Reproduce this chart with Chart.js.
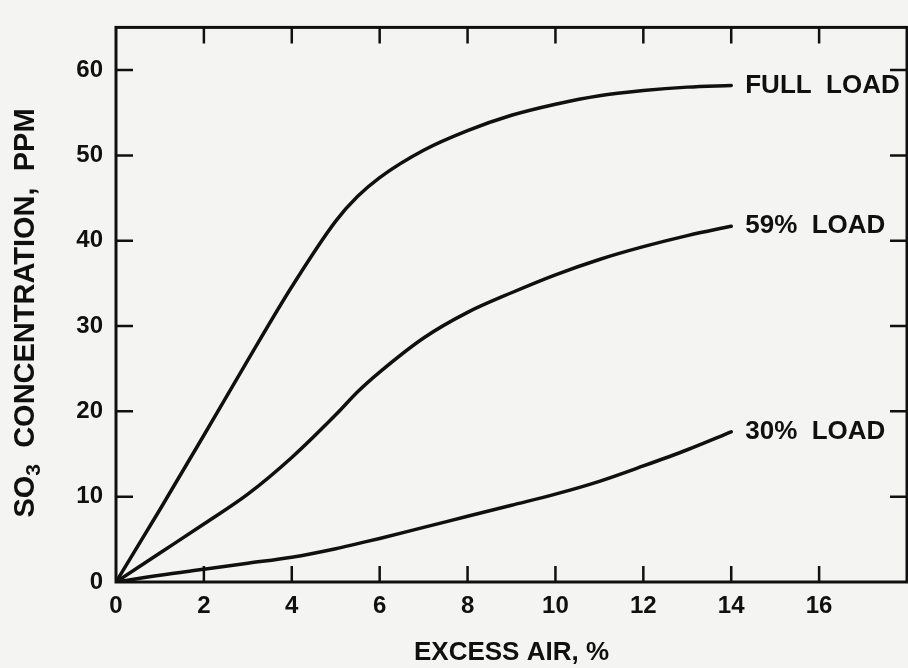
<!DOCTYPE html>
<html>
<head>
<meta charset="utf-8">
<script src="https://cdn.jsdelivr.net/npm/chart.js@4/dist/chart.umd.min.js"></script>
<style>
  html, body { margin: 0; padding: 0; background: #f4f4f2; }
  #wrap { width: 908px; height: 668px; position: relative; }
</style>
</head>
<body>
<div id="wrap"><canvas id="c"></canvas></div>
<script>
// Excess air (%) at which each curve is sampled
const excessAir = [0, 1, 2, 3, 4, 5, 5.5, 6, 7, 8, 9, 10, 11, 12, 13, 14];

// SO3 concentration (ppm) for each boiler load
const fullLoad = [0, 8.5, 17.2, 26, 34.6, 42.3, 45.2, 47.4, 50.6, 52.9, 54.7, 56.0, 57.0, 57.6, 58.0, 58.2];
const load59   = [0, 3.4, 6.8, 10.3, 14.6, 19.6, 22.3, 24.6, 28.6, 31.6, 33.9, 36.0, 37.8, 39.3, 40.6, 41.7];
const load30   = [0, 0.8, 1.5, 2.2, 2.9, 3.9, 4.5, 5.1, 6.4, 7.7, 9.0, 10.3, 11.8, 13.6, 15.5, 17.6];

const seriesNames = ['FULL  LOAD', '59%  LOAD', '30%  LOAD'];

const xTicks = [0, 2, 4, 6, 8, 10, 12, 14, 16];
const yTicks = [0, 10, 20, 30, 40, 50, 60];

const INK = '#101010';
const FONT = "'Liberation Sans', Arial, Helvetica, sans-serif";

const pts = (ys) => excessAir.map((x, i) => ({ x: x, y: ys[i] }));

// Boxed frame with inward tick marks on all four sides
const framePlugin = {
  id: 'frame',
  beforeDatasetsDraw(chart) {
    const { ctx, chartArea: a, scales: { x, y } } = chart;
    ctx.save();
    ctx.strokeStyle = INK;
    ctx.lineWidth = 3;
    ctx.strokeRect(a.left, a.top, a.right - a.left, a.bottom - a.top);
    ctx.lineWidth = 2.5;
    ctx.beginPath();
    xTicks.forEach(v => {
      if (v === 0) return;
      const px = x.getPixelForValue(v);
      ctx.moveTo(px, a.bottom); ctx.lineTo(px, a.bottom - 16);
      ctx.moveTo(px, a.top); ctx.lineTo(px, a.top + 16);
    });
    yTicks.forEach(v => {
      if (v === 0) return;
      const py = y.getPixelForValue(v);
      ctx.moveTo(a.left, py); ctx.lineTo(a.left + 17, py);
      ctx.moveTo(a.right, py); ctx.lineTo(a.right - 17, py);
    });
    ctx.stroke();
    ctx.restore();
  }
};

// Curve names at the end of each line, and the rotated y-axis title with subscript
const labelPlugin = {
  id: 'curveLabels',
  afterDatasetsDraw(chart) {
    const { ctx } = chart;
    ctx.save();
    ctx.fillStyle = INK;
    ctx.font = `bold 26px ${FONT}`;
    ctx.textBaseline = 'middle';
    ctx.textAlign = 'left';
    chart.data.datasets.forEach((ds, i) => {
      const meta = chart.getDatasetMeta(i);
      const last = meta.data[meta.data.length - 1];
      ctx.fillText(ds.label, last.x + 14, last.y);
    });

    // y-axis title: "SO" + subscript "3" + rest
    const big = `bold 29px ${FONT}`;
    const small = `bold 21px ${FONT}`;
    const parts = [['SO', big, 0], ['3', small, 8], ['  CONCENTRATION,  PPM', big, 0]];
    let total = 0;
    parts.forEach(p => { ctx.font = p[1]; total += ctx.measureText(p[0]).width; });
    const cx = 26, cy = 313;
    ctx.translate(cx, cy);
    ctx.rotate(-Math.PI / 2);
    let pos = -total / 2;
    parts.forEach(p => {
      ctx.font = p[1];
      ctx.fillText(p[0], pos, p[2]);
      pos += ctx.measureText(p[0]).width;
    });
    ctx.restore();
  }
};

new Chart(document.getElementById('c'), {
  type: 'line',
  data: {
    datasets: [
      { label: seriesNames[0], data: pts(fullLoad) },
      { label: seriesNames[1], data: pts(load59) },
      { label: seriesNames[2], data: pts(load30) }
    ].map(d => Object.assign(d, {
      borderColor: INK,
      borderWidth: 3.5,
      pointRadius: 0,
      fill: false,
      cubicInterpolationMode: 'monotone',
      borderCapStyle: 'round'
    }))
  },
  options: {
    responsive: true,
    maintainAspectRatio: false,
    animation: false,
    events: [],
    layout: { padding: { left: 0, right: 1, top: 13, bottom: 0 } },
    plugins: { legend: { display: false }, tooltip: { enabled: false } },
    scales: {
      x: {
        type: 'linear',
        min: 0,
        max: 18,
        afterBuildTicks: s => { s.ticks = xTicks.map(v => ({ value: v })); },
        afterFit: s => { s.height = 86; },
        grid: { display: false, drawTicks: false },
        border: { display: false },
        ticks: {
          autoSkip: false,
          maxRotation: 0,
          padding: 10,
          color: INK,
          font: { family: FONT, size: 24, weight: 'bold' }
        },
        title: {
          display: true,
          text: 'EXCESS AIR, %',
          color: INK,
          padding: { top: 0, bottom: 0 },
          font: { family: FONT, size: 26, weight: 'bold' }
        }
      },
      y: {
        type: 'linear',
        min: 0,
        max: 65,
        afterBuildTicks: s => { s.ticks = yTicks.map(v => ({ value: v })); },
        afterFit: s => { s.width = 116; },
        grid: { display: false, drawTicks: false },
        border: { display: false },
        ticks: {
          padding: 13,
          color: INK,
          font: { family: FONT, size: 24, weight: 'bold' }
        }
      }
    }
  },
  plugins: [framePlugin, labelPlugin]
});
</script>
</body>
</html>
